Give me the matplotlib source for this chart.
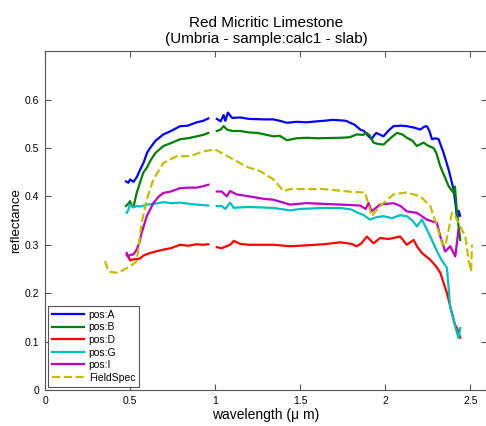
import numpy as np
import matplotlib.pyplot as plt

plt.rcParams['font.family'] = ['Liberation Sans', 'DejaVu Sans']

# wavelength (um) / reflectance; NaN marks the detector gap
nan = np.nan

wl_a = [0.476, 0.49, 0.50, 0.52, 0.54, 0.559, 0.58, 0.60, 0.618, 0.65, 0.696, 0.74, 0.794, 0.84, 0.892, 0.93, 0.96,
        0.98,
        1.01, 1.033, 1.05, 1.06, 1.075, 1.1, 1.147, 1.2, 1.284, 1.343, 1.38, 1.422, 1.48, 1.539, 1.6, 1.637, 1.69,
        1.735, 1.77, 1.794, 1.82, 1.853, 1.875, 1.892, 1.92, 1.935, 1.947, 1.99, 2.02, 2.049, 2.09, 2.127, 2.17,
        2.206, 2.23, 2.245, 2.26, 2.275, 2.295, 2.314, 2.343, 2.373, 2.402, 2.415, 2.422, 2.432, 2.44]
refl_a = [0.431, 0.428, 0.435, 0.43, 0.44, 0.455, 0.47, 0.49, 0.50, 0.515, 0.528, 0.535, 0.545, 0.546, 0.553, 0.556,
          0.561,
          nan,
          0.56, 0.555, 0.568, 0.556, 0.573, 0.562, 0.563, 0.56, 0.559, 0.559, 0.556, 0.552, 0.554, 0.553, 0.555,
          0.556, 0.558, 0.557, 0.556, 0.552, 0.548, 0.538, 0.535, 0.528, 0.518, 0.526, 0.531, 0.524, 0.536, 0.545,
          0.546, 0.545, 0.542, 0.538, 0.544, 0.545, 0.535, 0.518, 0.52, 0.518, 0.49, 0.455, 0.414, 0.38, 0.352,
          0.37, 0.36]

wl_b = [0.476, 0.49, 0.50, 0.51, 0.52, 0.539, 0.56, 0.578, 0.60, 0.618, 0.65, 0.696, 0.74, 0.794, 0.84, 0.892, 0.93,
        0.96,
        0.98,
        1.01, 1.033, 1.05, 1.07, 1.1, 1.147, 1.2, 1.25, 1.343, 1.38, 1.422, 1.48, 1.539, 1.6, 1.735, 1.79, 1.833,
        1.87, 1.892, 1.91, 1.931, 1.96, 1.99, 2.03, 2.069, 2.1, 2.127, 2.16, 2.186, 2.226, 2.25, 2.284, 2.3, 2.324,
        2.35, 2.373, 2.402, 2.41, 2.422, 2.441]
refl_b = [0.38, 0.385, 0.39, 0.38, 0.378, 0.407, 0.43, 0.449, 0.46, 0.473, 0.49, 0.504, 0.51, 0.518, 0.52, 0.524,
          0.527, 0.531,
          nan,
          0.535, 0.538, 0.545, 0.538, 0.535, 0.535, 0.532, 0.531, 0.524, 0.525, 0.516, 0.52, 0.521, 0.52, 0.521,
          0.522, 0.528, 0.527, 0.531, 0.525, 0.511, 0.508, 0.507, 0.52, 0.531, 0.528, 0.521, 0.515, 0.504, 0.511,
          0.505, 0.50, 0.49, 0.462, 0.44, 0.421, 0.407, 0.42, 0.366, 0.31]

wl_d = [0.48, 0.49, 0.50, 0.52, 0.54, 0.559, 0.58, 0.618, 0.65, 0.696, 0.74, 0.794, 0.84, 0.892, 0.93, 0.96,
        0.98,
        1.01, 1.039, 1.06, 1.088, 1.11, 1.147, 1.2, 1.284, 1.343, 1.441, 1.5, 1.637, 1.735, 1.8, 1.833, 1.86,
        1.892, 1.931, 1.97, 2.02, 2.088, 2.127, 2.167, 2.19, 2.216, 2.265, 2.3, 2.324, 2.363, 2.392, 2.41, 2.422,
        2.43, 2.441]
refl_d = [0.279, 0.275, 0.268, 0.27, 0.27, 0.272, 0.278, 0.283, 0.286, 0.29, 0.293, 0.30, 0.298, 0.301, 0.30,
          0.301,
          nan,
          0.295, 0.293, 0.296, 0.30, 0.308, 0.302, 0.30, 0.30, 0.30, 0.297, 0.298, 0.301, 0.305, 0.302, 0.297,
          0.303, 0.317, 0.303, 0.314, 0.312, 0.317, 0.30, 0.31, 0.295, 0.283, 0.269, 0.255, 0.242, 0.20, 0.159,
          0.135, 0.128, 0.12, 0.108]

wl_g = [0.48, 0.49, 0.50, 0.52, 0.539, 0.56, 0.598, 0.65, 0.696, 0.74, 0.794, 0.84, 0.892, 0.96,
        0.98,
        1.01, 1.039, 1.06, 1.088, 1.11, 1.127, 1.2, 1.284, 1.343, 1.441, 1.5, 1.637, 1.735, 1.8, 1.833, 1.87, 1.91,
        1.95, 1.99, 2.04, 2.088, 2.127, 2.16, 2.186, 2.216, 2.24, 2.265, 2.3, 2.324, 2.363, 2.382, 2.412, 2.431,
        2.441]
refl_g = [0.366, 0.372, 0.383, 0.377, 0.38, 0.379, 0.383, 0.385, 0.388, 0.386, 0.387, 0.385, 0.383, 0.381,
          nan,
          0.38, 0.38, 0.374, 0.387, 0.376, 0.377, 0.378, 0.377, 0.376, 0.371, 0.374, 0.376, 0.376, 0.373, 0.367,
          0.362, 0.352, 0.357, 0.359, 0.355, 0.361, 0.359, 0.35, 0.338, 0.352, 0.335, 0.317, 0.29, 0.273, 0.252,
          0.172, 0.131, 0.107, 0.128]

wl_i = [0.48, 0.49, 0.50, 0.52, 0.539, 0.555, 0.568, 0.598, 0.637, 0.67, 0.696, 0.74, 0.794, 0.84, 0.892, 0.93,
        0.96,
        0.98,
        1.01, 1.039, 1.069, 1.088, 1.127, 1.2, 1.284, 1.343, 1.441, 1.539, 1.735, 1.853, 1.885, 1.902, 1.92, 1.97,
        2.049, 2.09, 2.127, 2.186, 2.245, 2.304, 2.324, 2.353, 2.382, 2.412, 2.431]
refl_i = [0.283, 0.275, 0.279, 0.28, 0.29, 0.305, 0.324, 0.359, 0.386, 0.40, 0.407, 0.41, 0.417, 0.418, 0.418,
          0.421, 0.424,
          nan,
          0.41, 0.41, 0.40, 0.411, 0.404, 0.40, 0.395, 0.393, 0.383, 0.386, 0.383, 0.381, 0.374, 0.386, 0.369,
          0.383, 0.386, 0.38, 0.369, 0.366, 0.352, 0.345, 0.317, 0.286, 0.297, 0.276, 0.331]

wl_fs = [0.353, 0.373, 0.40, 0.431, 0.47, 0.50, 0.539, 0.568, 0.598, 0.637, 0.696, 0.775, 0.853, 0.931, 1.0,
         1.088, 1.186, 1.265, 1.343, 1.402, 1.441, 1.637, 1.814, 1.882, 1.92, 1.97, 2.049, 2.127, 2.206, 2.265,
         2.304, 2.333, 2.353, 2.373, 2.392, 2.412, 2.441, 2.471, 2.49, 2.505, 2.51]
refl_fs = [0.266, 0.245, 0.243, 0.242, 0.25, 0.255, 0.266, 0.345, 0.393, 0.435, 0.469, 0.483, 0.483, 0.493, 0.497,
           0.48, 0.461, 0.452, 0.435, 0.411, 0.415, 0.415, 0.409, 0.408, 0.359, 0.38, 0.404, 0.408, 0.40, 0.38,
           0.338, 0.304, 0.297, 0.331, 0.366, 0.359, 0.338, 0.317, 0.269, 0.245, 0.30]

series = [
    (wl_a, refl_a, 'pos:A', (0, 0, 1), '-'),
    (wl_b, refl_b, 'pos:B', (0, 0.5, 0), '-'),
    (wl_d, refl_d, 'pos:D', (1, 0, 0), '-'),
    (wl_g, refl_g, 'pos:G', (0, 0.75, 0.75), '-'),
    (wl_i, refl_i, 'pos:I', (0.75, 0, 0.75), '-'),
    (wl_fs, refl_fs, 'FieldSpec', (0.75, 0.75, 0), '--'),
]

fig = plt.figure(figsize=(4.86, 4.26), dpi=100)
ax = fig.add_axes([0.0926, 0.0845, 0.91, 0.7955])

for x, y, name, color, ls in series:
    ax.plot(x, y, ls, color=color, lw=1.6, label=name)

ax.set_xlim(0, 2.6)
ax.set_ylim(0, 0.7)
ax.set_xticks([0, 0.5, 1, 1.5, 2, 2.5])
ax.set_xticklabels(['0', '0.5', '1', '1.5', '2', '2.5'])
ax.set_yticks([0, 0.1, 0.2, 0.3, 0.4, 0.5, 0.6])
ax.set_yticklabels(['0', '0.1', '0.2', '0.3', '0.4', '0.5', '0.6'])
ax.tick_params(direction='in', top=True, right=True, labelsize=7.5, length=4,
               color='#555555', width=0.8, pad=4)
for sp in ax.spines.values():
    sp.set_color('#555555')
    sp.set_linewidth(0.8)

ax.set_xlabel('wavelength (\u03bc m)', fontsize=10, labelpad=2)
ax.set_ylabel('reflectance', fontsize=9.5, labelpad=2)
ax.set_title('Red Micritic Limestone\n(Umbria - sample:calc1 - slab)', fontsize=11, pad=6, linespacing=1.15)

leg = ax.legend(loc='lower left', fontsize=7.5, handlelength=3, handletextpad=0.5,
                borderaxespad=0.3, labelspacing=0.25, fancybox=False, framealpha=1,
                borderpad=0.4)
leg.get_frame().set_edgecolor('#555555')
leg.get_frame().set_linewidth(0.8)

fig.savefig('out.png', dpi=100)
